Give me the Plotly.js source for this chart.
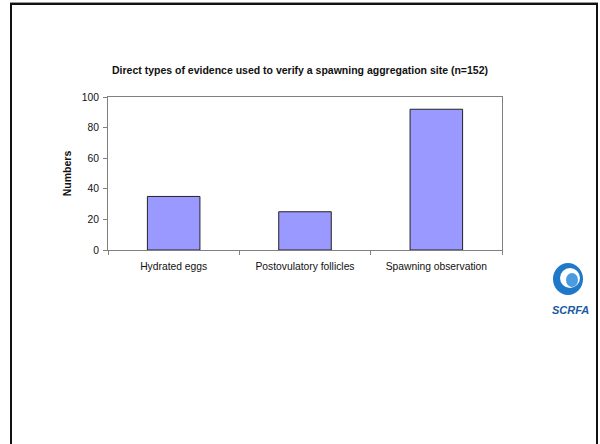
<!DOCTYPE html>
<html>
<head>
<meta charset="utf-8">
<script src="https://cdn.plot.ly/plotly-3.0.1.min.js"></script>
<style>
html,body{margin:0;padding:0;background:#fff;}
#wrap{position:relative;width:600px;height:444px;overflow:hidden;}
#frame{position:absolute;left:10px;top:3px;width:584px;height:460px;border-left:2px solid #111;border-right:2px solid #111;border-top:2px solid #111;box-shadow:0 -1px 0 #999;}
#chart{position:absolute;left:0;top:0;width:600px;height:444px;}
</style>
</head>
<body>
<div id="wrap">
<div id="frame"></div>
<div id="chart"></div>
</div>
<script>
const categories = ["Hydrated eggs", "Postovulatory follicles", "Spawning observation"];
const values = [35, 25, 92];
const yTicks = [0, 20, 40, 60, 80, 100];
const titleText = "Direct types of evidence used to verify a spawning aggregation site (n=152)";
const yTitle = "Numbers";
const logoText = "SCRFA";

const trace = {
  type: "bar",
  x: categories,
  y: values,
  marker: {color: "#9999ff", line: {color: "#222", width: 1}},
  hoverinfo: "none"
};

const px = v => 1 + (v - 502) / 394;
const py = v => 1 - (v - 97) / 153;

const layout = {
  width: 600, height: 444,
  margin: {l: 108, r: 98, t: 97, b: 194},
  paper_bgcolor: "rgba(0,0,0,0)",
  plot_bgcolor: "#fff",
  font: {family: "Arial, Liberation Sans, sans-serif", color: "#111", size: 10},
  title: {text: "<b>" + titleText + "</b>", font: {size: 10.5, color: "#111"}, x: 0.5, xref: "container", y: 1 - 70/444, yref: "container", yanchor: "middle"},
  bargap: 0.6,
  showlegend: false,
  xaxis: {
    showline: true, linecolor: "#808080", linewidth: 1, mirror: true,
    ticks: "outside", tickson: "boundaries", ticklen: 4, tickcolor: "#808080",
    ticklabelstandoff: 7,
    tickfont: {size: 10.3}, showgrid: false, zeroline: false, fixedrange: true
  },
  yaxis: {
    range: [0, 100], tickvals: yTicks, ticktext: yTicks.map(String),
    showline: true, linecolor: "#808080", linewidth: 1, mirror: true,
    ticks: "outside", ticklen: 4, tickcolor: "#808080",
    ticklabelstandoff: 2,
    tickfont: {size: 10.3}, showgrid: false, zeroline: false, fixedrange: true,
    title: {text: "<b>" + yTitle + "</b>", font: {size: 10.5}, standoff: 8}
  },
  shapes: [
    {type: "circle", xref: "paper", yref: "paper", xsizemode: "pixel", ysizemode: "pixel",
     xanchor: px(568), yanchor: py(279), x0: -15, x1: 15, y0: -16, y1: 16,
     fillcolor: "#1f78c8", line: {width: 0}},
    {type: "circle", xref: "paper", yref: "paper", xsizemode: "pixel", ysizemode: "pixel",
     xanchor: px(570), yanchor: py(278), x0: -10, x1: 10, y0: -10, y1: 10,
     fillcolor: "#ffffff", line: {width: 0}},
    {type: "circle", xref: "paper", yref: "paper", xsizemode: "pixel", ysizemode: "pixel",
     xanchor: px(572), yanchor: py(280), x0: -6, x1: 6, y0: -7, y1: 7,
     fillcolor: "#4a9be0", line: {width: 0}}
  ],
  annotations: [
    {text: "<b><i>" + logoText + "</i></b>", xref: "paper", yref: "paper",
     x: px(570), y: py(310), showarrow: false,
     font: {size: 11, color: "#1a5aa0", family: "Arial, Liberation Sans, sans-serif"},
     xanchor: "center", yanchor: "middle"}
  ]
};

Plotly.newPlot("chart", [trace], layout, {staticPlot: true, displayModeBar: false});
</script>
</body>
</html>
